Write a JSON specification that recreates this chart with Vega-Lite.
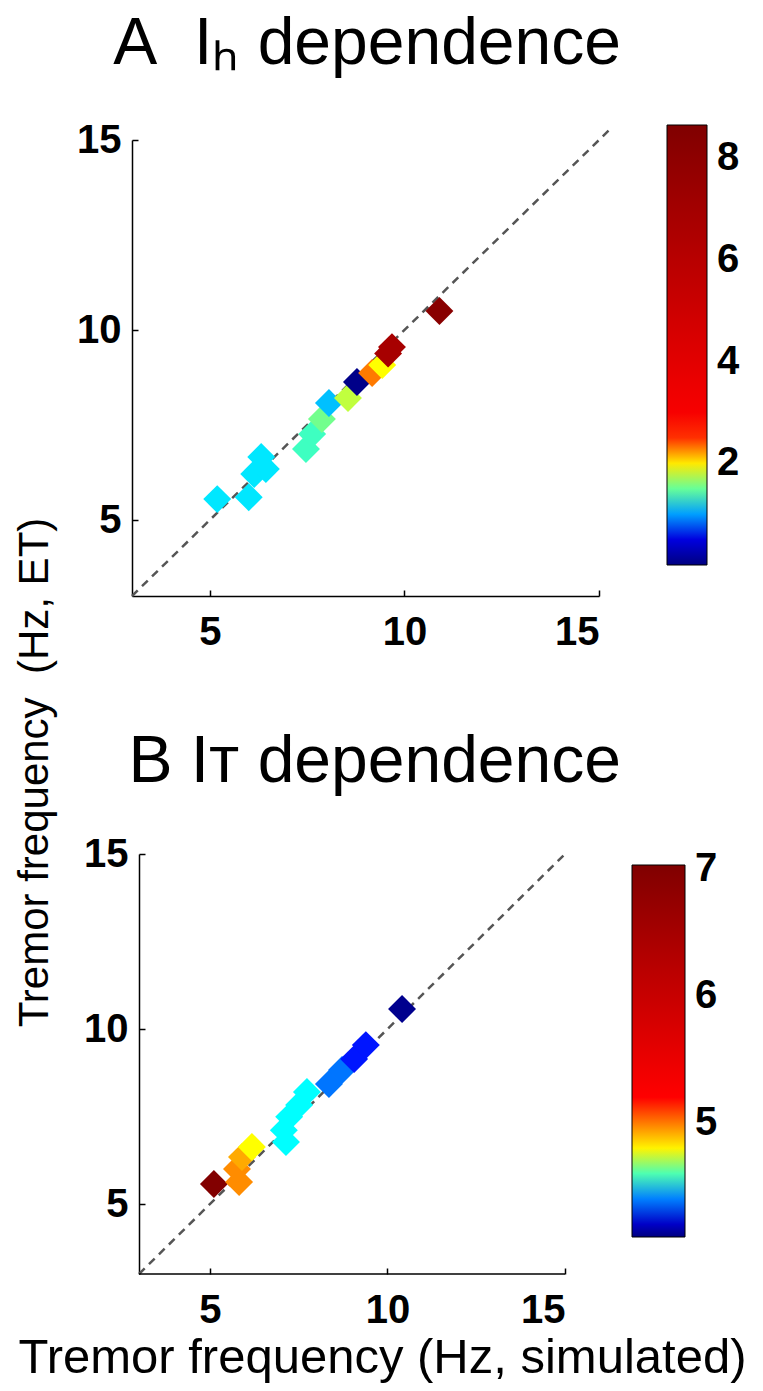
{
  "$schema": "https://vega.github.io/schema/vega-lite/v6.json",
  "background": "white",
  "padding": {"left": 13, "top": 11, "right": 5, "bottom": 5},
  "datasets": {
    "ptsA": [
      {"sim": 5.19, "et": 5.55, "val": 1.15},
      {"sim": 6.0, "et": 5.6, "val": 1.15},
      {"sim": 6.14, "et": 6.21, "val": 1.15},
      {"sim": 6.44, "et": 6.34, "val": 1.15},
      {"sim": 6.32, "et": 6.66, "val": 1.15},
      {"sim": 7.47, "et": 6.87, "val": 1.38},
      {"sim": 7.63, "et": 7.26, "val": 1.38},
      {"sim": 7.88, "et": 7.66, "val": 1.53},
      {"sim": 8.06, "et": 8.08, "val": 1.07},
      {"sim": 8.55, "et": 8.21, "val": 1.76},
      {"sim": 8.78, "et": 8.63, "val": 0.05},
      {"sim": 9.17, "et": 8.87, "val": 2.3},
      {"sim": 9.43, "et": 9.08, "val": 1.94},
      {"sim": 9.58, "et": 9.38, "val": 6.8},
      {"sim": 9.68, "et": 9.55, "val": 6.8},
      {"sim": 10.9, "et": 10.5, "val": 8.2}
    ],
    "ptsB": [
      {"sim": 5.11, "et": 5.57, "val": 7.0},
      {"sim": 5.82, "et": 5.63, "val": 4.97},
      {"sim": 5.76, "et": 6.0, "val": 4.97},
      {"sim": 5.9, "et": 6.34, "val": 4.92},
      {"sim": 6.18, "et": 6.63, "val": 4.78},
      {"sim": 7.14, "et": 6.77, "val": 4.52},
      {"sim": 7.08, "et": 7.11, "val": 4.52},
      {"sim": 7.23, "et": 7.49, "val": 4.52},
      {"sim": 7.51, "et": 7.83, "val": 4.52},
      {"sim": 7.73, "et": 8.2, "val": 4.52},
      {"sim": 8.35, "et": 8.43, "val": 4.39},
      {"sim": 8.72, "et": 8.83, "val": 4.39},
      {"sim": 9.06, "et": 9.14, "val": 4.3},
      {"sim": 9.39, "et": 9.54, "val": 4.3},
      {"sim": 10.41, "et": 10.57, "val": 4.12}
    ],
    "diagA": [{"sim": 3, "et": 3}, {"sim": 15.35, "et": 15.35}],
    "diagB": [{"sim": 3, "et": 3}, {"sim": 15.05, "et": 15.05}],
    "axisB": [{"sim": 3, "sim2": 15, "et": 3}]
  },
  "config": {
    "font": "Liberation Sans",
    "view": {"stroke": null},
    "axis": {
      "grid": false,
      "domainColor": "black",
      "domainWidth": 1.5,
      "tickColor": "black",
      "tickWidth": 1.5,
      "tickSize": -6,
      "labelFont": "Liberation Sans",
      "labelFontSize": 40,
      "labelFontWeight": "bold",
      "labelColor": "black",
      "titleFont": "Liberation Sans",
      "titleFontWeight": "normal",
      "titleColor": "black"
    },
    "title": {"font": "Liberation Sans", "fontWeight": "normal", "color": "black"}
  },
  "spacing": 258,
  "bounds": "flush",
  "resolve": {
    "scale": {"color": "independent", "x": "independent", "y": "independent"},
    "legend": {"color": "independent"}
  },
  "vconcat": [
    {
      "width": 467,
      "height": 456,
      "title": {
        "text": "A\u00a0 I\u2095 dependence",
        "anchor": "end",
        "frame": "group",
        "dx": 22,
        "fontSize": 66,
        "baseline": "alphabetic",
        "offset": -10
      },
      "layer": [
        {
          "data": {"name": "diagA"},
          "mark": {"type": "line", "strokeDash": [8, 6], "color": "#555555", "strokeWidth": 2.5},
          "encoding": {
            "x": {
              "field": "sim", "type": "quantitative",
              "scale": {"domain": [3, 15], "nice": false, "zero": false},
              "axis": {"values": [5, 10, 15], "title": null, "labelPadding": 22}
            },
            "y": {
              "field": "et", "type": "quantitative",
              "scale": {"domain": [3, 15], "nice": false, "zero": false},
              "axis": {
                "values": [5, 10, 15],
                "labelPadding": 17,
                "title": "Tremor frequency\u00a0\u00a0(Hz, ET)",
                "titleFontSize": 42,
                "titleAngle": -90,
                "titleAlign": "center",
                "titleBaseline": "alphabetic",
                "titleX": -85,
                "titleY": 632
              }
            }
          }
        },
        {
          "data": {"name": "ptsA"},
          "mark": {"type": "point", "shape": "diamond", "filled": true, "size": 780, "opacity": 1},
          "encoding": {
            "x": {"field": "sim", "type": "quantitative"},
            "y": {"field": "et", "type": "quantitative"},
            "color": {
              "field": "val", "type": "quantitative",
              "scale": {
                "type": "linear",
                "domain": [0, 0.67, 1.2, 1.94, 2.63, 8.65],
                "range": ["#000080", "#0000ff", "#00ffff", "#ffff00", "#ff0000", "#800000"],
                "interpolate": "rgb"
              },
              "legend": {
                "orient": "none",
                "legendX": 535,
                "legendY": -15,
                "direction": "vertical",
                "gradientLength": 440,
                "gradientThickness": 40,
                "gradientStrokeColor": "black",
                "gradientStrokeWidth": 1,
                "title": null,
                "values": [2, 4, 6, 8],
                "format": "d",
                "labelFontSize": 40,
                "labelFontWeight": "bold",
                "labelColor": "black",
                "labelOffset": 10,
                "labelBaseline": "middle"
              }
            }
          }
        }
      ]
    },
    {
      "width": 433,
      "height": 420,
      "title": {
        "text": "B Iᴛ dependence",
        "anchor": "end",
        "frame": "group",
        "dx": 56,
        "fontSize": 66,
        "baseline": "alphabetic",
        "offset": -14
      },
      "layer": [
        {
          "data": {"name": "diagB"},
          "mark": {"type": "line", "strokeDash": [8, 6], "color": "#555555", "strokeWidth": 2.5},
          "encoding": {
            "x": {
              "field": "sim", "type": "quantitative",
              "scale": {"domain": [2.803, 15], "nice": false, "zero": false},
              "axis": {
                "values": [5, 10, 15],
                "domain": false,
                "labelPadding": 22,
                "title": "Tremor frequency (Hz, simulated)",
                "titleFontSize": 49,
                "titleAlign": "center",
                "titleBaseline": "alphabetic",
                "titleX": 250,
                "titleY": 98
              }
            },
            "y": {
              "field": "et", "type": "quantitative",
              "scale": {"domain": [3, 15], "nice": false, "zero": false},
              "axis": {"values": [5, 10, 15], "labelPadding": 17, "title": null, "offset": -7}
            }
          }
        },
        {
          "data": {"name": "axisB"},
          "mark": {"type": "rule", "color": "black", "strokeWidth": 1.5},
          "encoding": {
            "x": {"field": "sim", "type": "quantitative"},
            "x2": {"field": "sim2"},
            "y": {"field": "et", "type": "quantitative"}
          }
        },
        {
          "data": {"name": "ptsB"},
          "mark": {"type": "point", "shape": "diamond", "filled": true, "size": 780, "opacity": 1},
          "encoding": {
            "x": {"field": "sim", "type": "quantitative"},
            "y": {"field": "et", "type": "quantitative"},
            "color": {
              "field": "val", "type": "quantitative",
              "scale": {
                "type": "linear",
                "domain": [4.1, 4.28, 4.52, 4.78, 5.2, 7.03],
                "range": ["#000080", "#0000ff", "#00ffff", "#ffff00", "#ff0000", "#800000"],
                "interpolate": "rgb"
              },
              "legend": {
                "orient": "none",
                "legendX": 500,
                "legendY": 11,
                "direction": "vertical",
                "gradientLength": 372,
                "gradientThickness": 53,
                "gradientStrokeColor": "black",
                "gradientStrokeWidth": 1,
                "title": null,
                "values": [5, 6, 7],
                "format": "d",
                "labelFontSize": 40,
                "labelFontWeight": "bold",
                "labelColor": "black",
                "labelOffset": 10,
                "labelBaseline": "middle"
              }
            }
          }
        }
      ]
    }
  ]
}
